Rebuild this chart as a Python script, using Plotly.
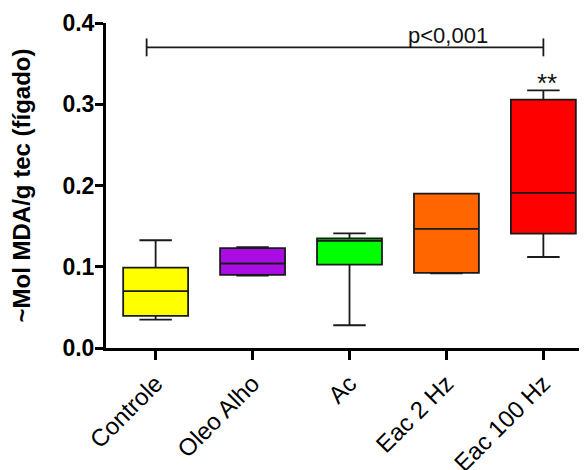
import plotly.graph_objects as go

categories = ["Controle", "Oleo Alho", "Ac", "Eac 2 Hz", "Eac 100 Hz"]
lower_whisker = [0.035, 0.089, 0.028, 0.092, 0.112]
q1_values = [0.0395, 0.090, 0.1027, 0.0925, 0.1408]
median_values = [0.070, 0.104, 0.132, 0.1466, 0.191]
q3_values = [0.099, 0.123, 0.135, 0.190, 0.3057]
upper_whisker = [0.1326, 0.124, 0.141, 0.190, 0.317]
box_colors = ["#FFFF00", "#AA0DE4", "#00FF00", "#FF6600", "#FF0000"]
y_ticks = [0.0, 0.1, 0.2, 0.3, 0.4]

bracket_y = 0.37
bracket_label = "p<0,001"
star_label = "**"

FONT = "Liberation Sans, Arial, sans-serif"
positions = list(range(len(categories)))

fig = go.Figure()
for i, cat in enumerate(categories):
    fig.add_trace(go.Box(
        x=[positions[i]],
        q1=[q1_values[i]], median=[median_values[i]], q3=[q3_values[i]],
        lowerfence=[lower_whisker[i]], upperfence=[upper_whisker[i]],
        fillcolor=box_colors[i],
        line=dict(color="#1a1a1a", width=1.8),
        width=0.67, whiskerwidth=0.5,
        boxpoints=False, showlegend=False, hoverinfo="skip", name=cat,
    ))

# significance bracket
bx = [-0.093, positions[4]]
fig.add_trace(go.Scatter(
    x=bx, y=[bracket_y, bracket_y], mode="lines",
    line=dict(color="#1a1a1a", width=1.8), showlegend=False, hoverinfo="skip",
    cliponaxis=False,
))
for xe in bx:
    fig.add_trace(go.Scatter(
        x=[xe, xe], y=[bracket_y - 0.011, bracket_y + 0.011], mode="lines",
        line=dict(color="#1a1a1a", width=1.8), showlegend=False, hoverinfo="skip",
        cliponaxis=False,
    ))

fig.add_annotation(x=3.02, y=bracket_y, yanchor="bottom", xanchor="center",
                   text=bracket_label, showarrow=False, yshift=-3,
                   font=dict(family=FONT, size=22, color="#111"))
fig.add_annotation(x=4.04, y=upper_whisker[4], yanchor="bottom", xanchor="center",
                   text=star_label, showarrow=False, yshift=-10,
                   font=dict(family=FONT, size=26, color="#111"))

# page body has an 8px margin; margins below compensate so the plot lands
# where the reference has it inside the 587x470 window
fig.update_layout(
    width=587, height=470,
    margin=dict(l=98, r=8, t=15, b=129.5),
    paper_bgcolor="white", plot_bgcolor="white",
    font=dict(family=FONT, color="black"),
    xaxis=dict(
        range=[-0.512, 4.45], tickvals=positions, ticktext=categories,
        showline=True, linecolor="black", linewidth=3,
        ticks="outside", ticklen=9, tickwidth=3, tickcolor="black",
        tickangle=-45, tickfont=dict(family=FONT, size=24, color="black"),
        showgrid=False, zeroline=False, automargin=False,
    ),
    yaxis=dict(
        range=[0, 0.4], tickvals=y_ticks, tickformat=".1f",
        showline=True, linecolor="black", linewidth=3,
        ticks="outside", ticklen=8, tickwidth=3, tickcolor="black",
        tickfont=dict(family=FONT, size=23, color="black", weight="bold"),
        ticklabelstandoff=-4,
        showgrid=False, zeroline=False, automargin=False,
        title=dict(text="~Mol MDA/g tec (fígado)",
                   font=dict(family=FONT, size=24, color="black", weight="bold"),
                   standoff=27),
    ),
)

fig.write_html("out.html")
